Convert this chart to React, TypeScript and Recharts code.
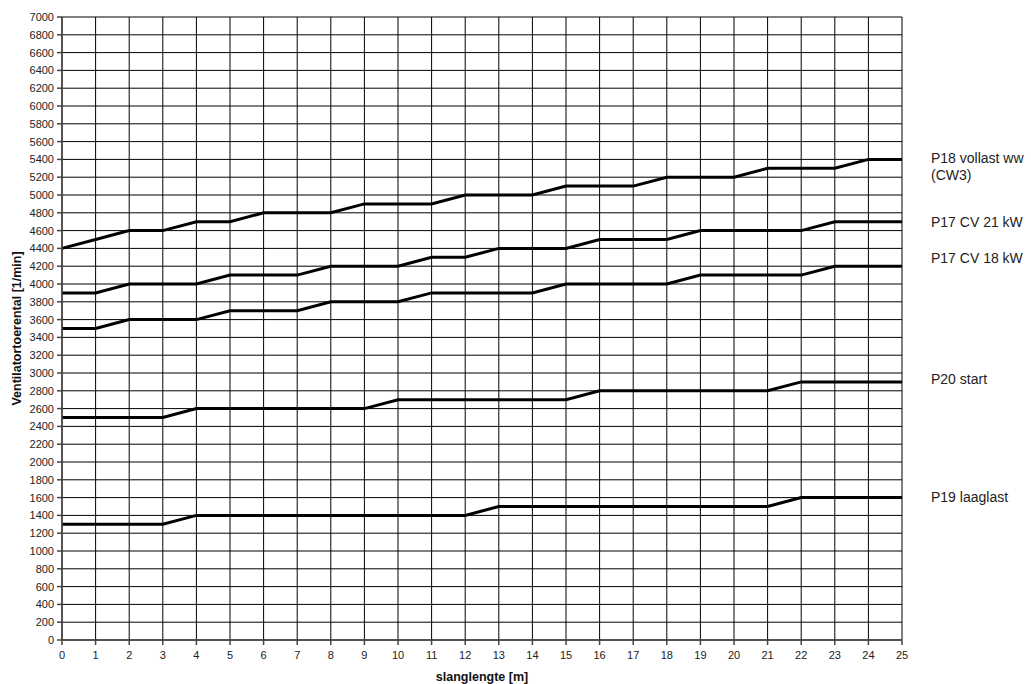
import { LineChart, Line, XAxis, YAxis, CartesianGrid, LabelList } from "recharts";

// ---------------------------------------------------------------------------
// Data
// ---------------------------------------------------------------------------

const hoseLengths = [0, 1, 2, 3, 4, 5, 6, 7, 8, 9, 10, 11, 12, 13, 14, 15, 16, 17, 18, 19, 20, 21, 22, 23, 24, 25];

const p18Vollast = [4400, 4500, 4600, 4600, 4700, 4700, 4800, 4800, 4800, 4900, 4900, 4900, 5000, 5000, 5000, 5100, 5100, 5100, 5200, 5200, 5200, 5300, 5300, 5300, 5400, 5400];
const p17Cv21 = [3900, 3900, 4000, 4000, 4000, 4100, 4100, 4100, 4200, 4200, 4200, 4300, 4300, 4400, 4400, 4400, 4500, 4500, 4500, 4600, 4600, 4600, 4600, 4700, 4700, 4700];
const p17Cv18 = [3500, 3500, 3600, 3600, 3600, 3700, 3700, 3700, 3800, 3800, 3800, 3900, 3900, 3900, 3900, 4000, 4000, 4000, 4000, 4100, 4100, 4100, 4100, 4200, 4200, 4200];
const p20Start = [2500, 2500, 2500, 2500, 2600, 2600, 2600, 2600, 2600, 2600, 2700, 2700, 2700, 2700, 2700, 2700, 2800, 2800, 2800, 2800, 2800, 2800, 2900, 2900, 2900, 2900];
const p19Laaglast = [1300, 1300, 1300, 1300, 1400, 1400, 1400, 1400, 1400, 1400, 1400, 1400, 1400, 1500, 1500, 1500, 1500, 1500, 1500, 1500, 1500, 1500, 1600, 1600, 1600, 1600];

const yTicks = [0, 200, 400, 600, 800, 1000, 1200, 1400, 1600, 1800, 2000, 2200, 2400, 2600, 2800, 3000, 3200, 3400, 3600, 3800, 4000, 4200, 4400, 4600, 4800, 5000, 5200, 5400, 5600, 5800, 6000, 6200, 6400, 6600, 6800, 7000];

const series = [
  { key: "p18", label: ["P18 vollast ww", "(CW3)"], values: p18Vollast },
  { key: "p17a", label: ["P17 CV 21 kW"], values: p17Cv21 },
  { key: "p17b", label: ["P17 CV 18 kW"], values: p17Cv18 },
  { key: "p20", label: ["P20 start"], values: p20Start },
  { key: "p19", label: ["P19 laaglast"], values: p19Laaglast },
];

// small vertical nudges so the end labels don't collide
const labelShift: Record<string, number> = { p18: -1, p17a: 0, p17b: -8, p20: -3, p19: -1 };

const data = hoseLengths.map((x, i) => {
  const row: Record<string, number> = { x };
  series.forEach((s) => (row[s.key] = s.values[i]));
  return row;
});

const FONT = "'Liberation Sans', Arial, sans-serif";

// ---------------------------------------------------------------------------
// End-of-line label
// ---------------------------------------------------------------------------

function endLabel(lines: string[], shift: number) {
  return (props: any) => {
    const { x, y, index } = props;
    if (index !== hoseLengths.length - 1) return null;
    return (
      <text x={x + 29} y={y + shift + 5} fill="#222" fontSize={14} fontFamily={FONT}>
        {lines.map((t, i) => (
          <tspan key={i} x={x + 29} dy={i === 0 ? 0 : 17}>
            {t}
          </tspan>
        ))}
      </text>
    );
  };
}

// ---------------------------------------------------------------------------
// Component
// ---------------------------------------------------------------------------

export default function App() {
  return (
    <div style={{ position: "absolute", left: 0, top: 0, background: "#fff" }}>
      <LineChart
        width={1031}
        height={684}
        data={data}
        margin={{ top: 17, right: 129, left: 0, bottom: 0 }}
      >
        <CartesianGrid stroke="#000" strokeWidth={1} />
        <XAxis
          dataKey="x"
          type="number"
          domain={[0, 25]}
          ticks={hoseLengths}
          interval={0}
          height={44}
          tick={{ fill: "#222", fontSize: 11, fontFamily: FONT }}
          tickSize={5}
          tickMargin={6}
          stroke="#444"
          strokeWidth={1.5}
          label={{
            value: "slanglengte [m]",
            position: "insideBottom",
            offset: 3,
            style: { fill: "#111", fontSize: 12.5, fontWeight: "bold", fontFamily: FONT },
          }}
        />
        <YAxis
          type="number"
          domain={[0, 7000]}
          ticks={yTicks}
          interval={0}
          width={62}
          tick={{ fill: "#222", fontSize: 11, fontFamily: FONT }}
          tickSize={5}
          tickMargin={3}
          stroke="#444"
          strokeWidth={1.5}
          label={{
            value: "Ventilatortoerental [1/min]",
            angle: -90,
            position: "insideLeft",
            offset: 17,
            style: { fill: "#111", fontSize: 12.5, fontWeight: "bold", fontFamily: FONT, textAnchor: "middle" },
          }}
        />
        {series.map((s) => (
          <Line
            key={s.key}
            dataKey={s.key}
            type="linear"
            stroke="#000"
            strokeWidth={3}
            dot={false}
            activeDot={false}
            isAnimationActive={false}
          >
            <LabelList dataKey={s.key} content={endLabel(s.label, labelShift[s.key])} />
          </Line>
        ))}
      </LineChart>
    </div>
  );
}
